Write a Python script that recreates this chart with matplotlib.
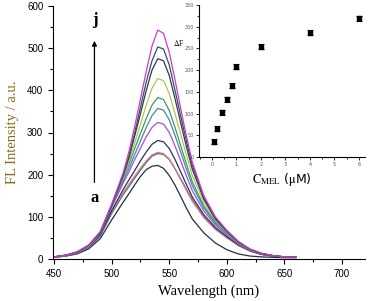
import matplotlib
matplotlib.use("Agg")
import matplotlib.pyplot as plt
from matplotlib.ticker import MultipleLocator

plt.rcParams['mathtext.fontset'] = 'stix'

# emission spectra, a (lowest) ... top
wavelength = [450, 460, 470, 480, 490, 500, 510, 515, 520, 525, 530, 535, 540,
              545, 550, 555, 560, 565, 570, 580, 590, 600, 610, 620, 630, 640,
              650, 660]
spectra = [
    [4, 7, 12, 24, 48, 93, 135, 155, 176, 196, 212, 220, 222, 215, 198, 175, 148, 120, 95, 62, 38, 22, 12, 7, 5, 4, 3, 3],
    [4, 7, 13, 27, 54, 108, 153, 172, 192, 211, 229, 244, 250, 248, 236, 214, 190, 165, 140, 100, 72, 51, 32, 19, 11, 7, 5, 4],
    [5, 8, 14, 28, 56, 112, 158, 178, 197, 216, 233, 247, 253, 250, 237, 214, 188, 162, 137, 98, 70, 50, 32, 19, 11, 7, 5, 4],
    [5, 8, 14, 29, 57, 115, 165, 188, 210, 233, 254, 272, 281, 278, 262, 236, 206, 176, 147, 105, 75, 53, 34, 20, 11, 7, 5, 4],
    [5, 8, 15, 30, 60, 123, 180, 207, 236, 263, 290, 312, 324, 320, 300, 268, 232, 196, 162, 114, 81, 57, 36, 21, 12, 7, 5, 4],
    [5, 8, 15, 30, 60, 125, 185, 215, 248, 280, 312, 340, 357, 353, 330, 293, 253, 212, 174, 121, 85, 60, 37, 21, 12, 8, 5, 4],
    [5, 9, 16, 31, 62, 130, 192, 225, 262, 298, 333, 365, 383, 378, 352, 312, 268, 224, 183, 126, 88, 61, 38, 22, 13, 8, 5, 4],
    [5, 9, 16, 31, 62, 128, 195, 232, 275, 320, 365, 405, 428, 423, 392, 345, 295, 245, 198, 135, 92, 63, 39, 22, 13, 8, 5, 4],
    [5, 9, 16, 32, 62, 127, 198, 240, 292, 345, 400, 448, 475, 470, 435, 380, 322, 265, 213, 142, 95, 65, 40, 23, 13, 8, 5, 4],
    [5, 9, 17, 33, 63, 128, 200, 245, 300, 360, 420, 470, 503, 498, 460, 400, 338, 278, 222, 146, 98, 66, 41, 23, 13, 8, 5, 4],
    [5, 9, 17, 33, 65, 130, 205, 255, 315, 380, 445, 505, 543, 535, 490, 425, 355, 290, 230, 150, 100, 68, 42, 24, 14, 8, 5, 4],
]
colors = ['#22303f', '#52657a', '#d8788a', '#26335e', '#a84ce0', '#4a88a8',
          '#3a9a6a', '#b4c450', '#2c3a48', '#3c4c66', '#cc3acc']

# inset: Delta F vs concentration
conc = [0.1, 0.2, 0.4, 0.6, 0.8, 1.0, 2.0, 4.0, 6.0]
delta_f = [35, 65, 103, 133, 164, 208, 254, 286, 319]
delta_err = [6, 6, 6, 6, 6, 6, 6, 6, 6]

fig = plt.figure(figsize=(3.69, 3.01), dpi=100)
ax = fig.add_axes([53 / 369, 1 - 259 / 301, 312 / 369, 253 / 301])

for s, c in zip(spectra, colors):
    ax.plot(wavelength, s, color=c, lw=0.9)

ax.set_xlim(449, 720)
ax.set_ylim(0, 600)
ax.xaxis.set_major_locator(MultipleLocator(50))
ax.xaxis.set_minor_locator(MultipleLocator(25))
ax.yaxis.set_major_locator(MultipleLocator(100))
ax.yaxis.set_minor_locator(MultipleLocator(50))
ax.tick_params(which='both', direction='out', labelsize=7, width=0.8)
ax.tick_params(which='major', length=3.5)
ax.tick_params(which='minor', length=2)
for lab in ax.get_xticklabels() + ax.get_yticklabels():
    lab.set_fontfamily('Liberation Sans')
ax.spines['top'].set_visible(False)
ax.spines['right'].set_visible(False)
ax.set_xlabel('Wavelength (nm)', family='Liberation Serif', fontsize=10.5,
              labelpad=4)
ax.set_ylabel('FL Intensity / a.u.', family='Liberation Serif', fontsize=10.5,
              color='#8a6a1a', labelpad=6)

ax.annotate('', xy=(485, 524), xytext=(485, 175),
            arrowprops=dict(arrowstyle='-|>', color='black', lw=0.9,
                            mutation_scale=7))
ax.text(485, 567, 'j', family='Liberation Serif', fontweight='bold',
        fontsize=12, ha='center', va='center')
ax.text(485, 145, 'a', family='Liberation Serif', fontweight='bold',
        fontsize=12, ha='center', va='center')

ins = fig.add_axes([199 / 369, 1 - 157 / 301, 166 / 369, 152 / 301])
ins.patch.set_alpha(0)
ins.errorbar(conc, delta_f, yerr=delta_err, fmt='s', color='black',
             ms=2.5, elinewidth=0.8, capsize=2, capthick=0.8)
ins.set_xlim(-0.53, 6.25)
ins.set_ylim(0, 350)
ins.xaxis.set_major_locator(MultipleLocator(1))
ins.xaxis.set_minor_locator(MultipleLocator(0.5))
ins.yaxis.set_major_locator(MultipleLocator(50))
ins.yaxis.set_minor_locator(MultipleLocator(25))
ins.tick_params(which='both', direction='out', labelsize=3.5,
                labelcolor='#555555', width=0.6, pad=1.5)
ins.tick_params(which='major', length=2)
ins.tick_params(which='minor', length=1.2)
ins.spines['top'].set_visible(False)
ins.spines['right'].set_visible(False)
ins.spines['left'].set_linewidth(0.8)
ins.spines['bottom'].set_linewidth(0.8)
ins.set_xlabel(r'$\mathrm{C}_{\mathrm{MEL}}$ ($\mathrm{\mu}$M)', fontsize=9,
               labelpad=3)
fig.text(179 / 369, 1 - 43 / 301, r'$\Delta$F', family='Liberation Serif',
         fontsize=5.5, ha='center', va='center')

fig.savefig('out.png', dpi=100)
